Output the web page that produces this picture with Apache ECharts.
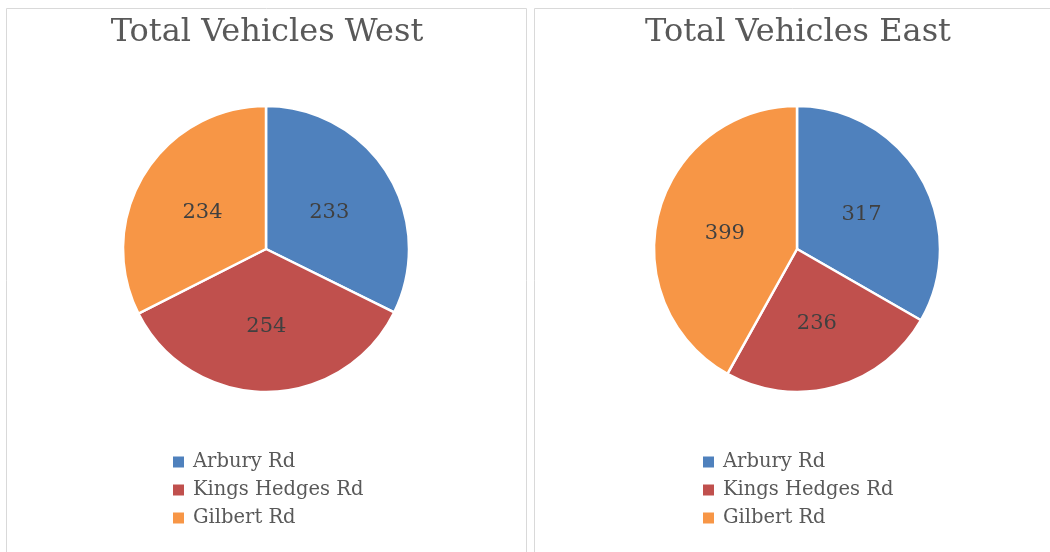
<!DOCTYPE html>
<html>
<head>
<meta charset="utf-8">
<script src="https://cdn.jsdelivr.net/npm/echarts@6/dist/echarts.min.js"></script>
<style>
  html, body { margin: 0; padding: 0; background: #fff; }
  #main { width: 1050px; height: 552px; }
</style>
</head>
<body>
<div id="main"></div>
<script>
// data
var roads = ["Arbury Rd", "Kings Hedges Rd", "Gilbert Rd"];
var westValues = [233, 254, 234];
var eastValues = [317, 236, 399];
var titles = ["Total Vehicles West", "Total Vehicles East"];
var colors = ["#4F81BD", "#C0504D", "#F79646"];

var serif = "'DejaVu Serif', serif";

function toData(values) {
    return roads.map(function (name, i) {
        return { name: name, value: values[i] };
    });
}

function pieSeries(values, cx) {
    return {
        type: "pie",
        center: [cx, 249],
        radius: [0, 143],
        startAngle: 90,
        clockwise: true,
        silent: true,
        itemStyle: { borderColor: "#fff", borderWidth: 2.5 },
        label: {
            show: true,
            position: "inner",
            formatter: "{c}",
            color: "#404040",
            fontFamily: serif,
            fontSize: 21,
            offset: [0, 3]
        },
        labelLine: { show: false },
        data: toData(values)
    };
}

function legendAt(left) {
    return {
        orient: "vertical",
        left: left,
        top: 451,
        padding: 0,
        itemWidth: 13,
        itemHeight: 13,
        itemGap: 6,
        icon: "rect",
        selectedMode: false,
        textStyle: { color: "#595959", fontFamily: serif, fontSize: 19.5, lineHeight: 22, padding: [0, 0, 0, 3] },
        data: roads
    };
}

var myChart = echarts.init(document.getElementById("main"));
myChart.setOption({
    color: colors,
    animation: false,
    graphic: [
        { type: "rect", shape: { x: 6.5, y: 8.5, width: 520, height: 560 }, style: { fill: "none", stroke: "#d9d9d9", lineWidth: 1 } },
        { type: "rect", shape: { x: 534.5, y: 8.5, width: 530, height: 560 }, style: { fill: "none", stroke: "#d9d9d9", lineWidth: 1 } }
    ],
    title: [
        { text: titles[0], left: 262, top: 12, textAlign: "center", textStyle: { color: "#595959", fontFamily: serif, fontWeight: "normal", fontSize: 32 } },
        { text: titles[1], left: 793, top: 12, textAlign: "center", textStyle: { color: "#595959", fontFamily: serif, fontWeight: "normal", fontSize: 32 } }
    ],
    legend: [legendAt(171), legendAt(701)],
    series: [pieSeries(westValues, 266), pieSeries(eastValues, 797)]
});
</script>
</body>
</html>
